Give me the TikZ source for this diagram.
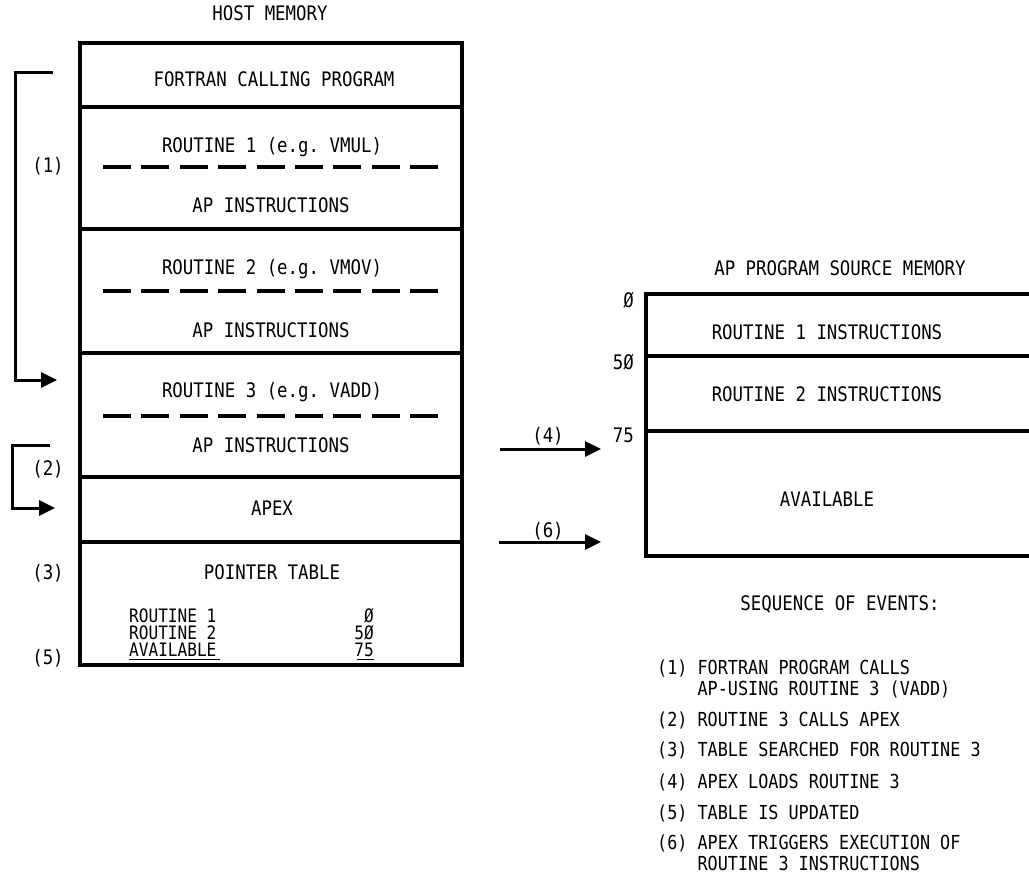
\documentclass[tikz,border=0pt]{standalone}
\usepackage{fontspec}
\setmonofont{DejaVu Sans Mono}[FakeStretch=0.87]
\usetikzlibrary{arrows.meta}
\tikzset{
  lbl/.style={font=\ttfamily\fontsize{20}{22}\selectfont, inner sep=0pt, anchor=base},
  tbl/.style={font=\ttfamily\fontsize{18.5}{20}\selectfont, inner sep=0pt},
  lblw/.style={tbl, anchor=base west},
  lble/.style={tbl, anchor=base east},
  adr/.style={lbl, anchor=base east},
  ev/.style={font=\ttfamily\fontsize{19.3}{22}\selectfont, inner sep=0pt, anchor=base west},
  memline/.style={line width=3.2pt, line cap=rect},
  ulline/.style={line width=1.6pt},
  sepline/.style={dash pattern=on 28pt off 10.4pt, line width=4pt},
  arr/.style={line width=3pt, -{Triangle[length=16pt,width=15pt]}},
}
\begin{document}
\begin{tikzpicture}[x=1pt,y=-1pt]
\clip (0,0) rectangle (1029,875);
\fill[white] (0,0) rectangle (1029,875);

% ---------- host memory ----------
\node[lbl] (hosttitle) at (270,21) {HOST MEMORY};
\draw[memline] (80,43) rectangle (462,665);
\foreach \yy in {107,229,353,477,542} \draw[memline] (80,\yy) -- (462,\yy);

\node[lbl] (fortran) at (274,87) {FORTRAN CALLING PROGRAM};
\node[lbl] (r1) at (272,153) {ROUTINE 1 (e.g. VMUL)};
\draw[sepline] (103,167) -- (440,167);
\node[lbl] (r1ap) at (271,212) {AP INSTRUCTIONS};
\node[lbl] (r2) at (272,274) {ROUTINE 2 (e.g. VMOV)};
\draw[sepline] (103,291) -- (440,291);
\node[lbl] (r2ap) at (271,337) {AP INSTRUCTIONS};
\node[lbl] (r3) at (272,397) {ROUTINE 3 (e.g. VADD)};
\draw[sepline] (103,416) -- (440,416);
\node[lbl] (r3ap) at (271,452) {AP INSTRUCTIONS};
\node[lbl] (apex) at (272,515) {APEX};
\node[lbl] (ptab) at (272,579) {POINTER TABLE};
\node[lblw] (t1) at (129,622) {ROUTINE 1};
\node[lblw] (t2) at (129,639) {ROUTINE 2};
\node[lblw] (t3) at (129,656) {AVAILABLE};
\node[lble] (v1) at (374,622) {Ø};
\node[lble] (v2) at (374,639) {5Ø};
\node[lble] (v3) at (374,656) {75};
\draw[ulline] (t3.base west) ++(0,3.5) -- ++(91,0);
\draw[ulline] (v3.base east) ++(0,3.5) -- ++(-17,0);

% step labels on the left
\node[lbl] (s1) at (48,172) {(1)};
\node[lbl] (s2) at (48,475) {(2)};
\node[lbl] (s3) at (48,579) {(3)};
\node[lbl] (s5) at (48,664) {(5)};

% bracket arrows
\coordinate (a1s) at (53,73);
\coordinate (a1e) at (57,380);
\draw[arr] (a1s) -- (15,73) -- (15,380) -- (a1e);
\coordinate (a2s) at (50,445);
\coordinate (a2e) at (55,508);
\draw[arr] (a2s) -- (12,445) -- (12,508) -- (a2e);

% ---------- AP program source memory ----------
\node[lbl] (aptitle) at (840,275) {AP PROGRAM SOURCE MEMORY};
\draw[memline] (646,294) rectangle (1045,556);
\draw[memline] (646,356) -- (1045,356);
\draw[memline] (646,431) -- (1045,431);
\node[lbl] (ap1) at (827,339) {ROUTINE 1 INSTRUCTIONS};
\node[lbl] (ap2) at (827,401) {ROUTINE 2 INSTRUCTIONS};
\node[lbl] (apav) at (827,506) {AVAILABLE};
\node[adr] (ad0) at (634,307) {Ø};
\node[adr] (ad50) at (634,369) {5Ø};
\node[adr] (ad75) at (634,442) {75};

% arrows (4) and (6)
\coordinate (a4s) at (500,449);
\coordinate (a4e) at (601,449);
\draw[arr] (a4s) -- (a4e);
\node[lbl] (l4) at (548,442) {(4)};
\coordinate (a6s) at (499,542);
\coordinate (a6e) at (601,542);
\draw[arr] (a6s) -- (a6e);
\node[lbl] (l6) at (548,537) {(6)};

% ---------- sequence of events ----------
\node[lbl] (seqtitle) at (840,610) {SEQUENCE OF EVENTS:};
\node[ev] (e1) at (657,674) {(1) FORTRAN PROGRAM CALLS};
\node[ev] (e1b) at (657,695) {\phantom{(1) }AP-USING ROUTINE 3 (VADD)};
\node[ev] (e2) at (657,726) {(2) ROUTINE 3 CALLS APEX};
\node[ev] (e3) at (657,756) {(3) TABLE SEARCHED FOR ROUTINE 3};
\node[ev] (e4) at (657,788) {(4) APEX LOADS ROUTINE 3};
\node[ev] (e5) at (657,819) {(5) TABLE IS UPDATED};
\node[ev] (e6) at (657,849) {(6) APEX TRIGGERS EXECUTION OF};
\node[ev] (e6b) at (657,870) {\phantom{(6) }ROUTINE 3 INSTRUCTIONS};
\end{tikzpicture}
\end{document}
